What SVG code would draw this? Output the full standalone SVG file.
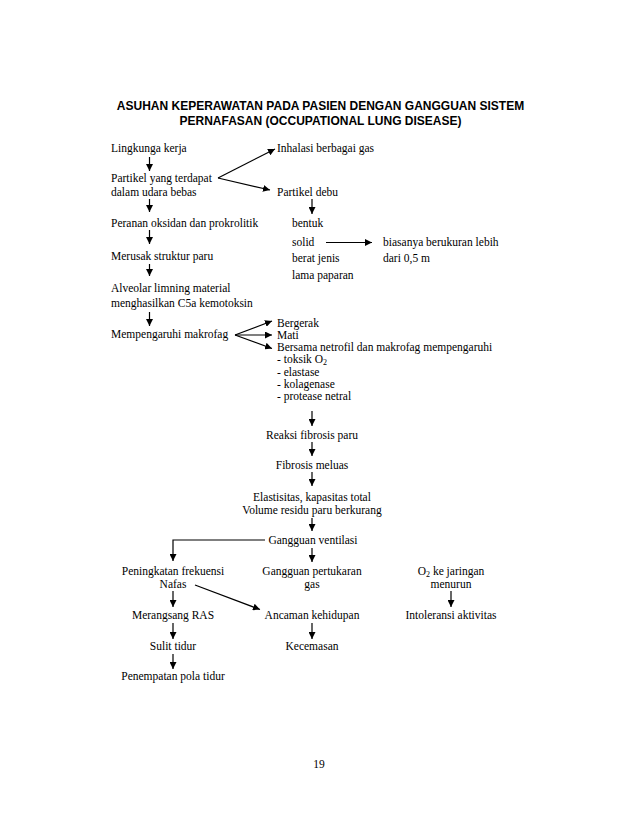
<svg xmlns="http://www.w3.org/2000/svg" width="638" height="826" viewBox="0 0 638 826">
<style>
.t{font-family:"Liberation Serif","Times New Roman",serif;font-size:11.5px;fill:#000}
.m{text-anchor:middle}
.h{font-family:"Liberation Sans",Arial,sans-serif;font-size:12px;font-weight:bold;text-anchor:middle;fill:#000}
.c{stroke:#000;stroke-width:1.2;fill:none}
</style>
<defs>
<marker id="ah" markerUnits="userSpaceOnUse" markerWidth="8" markerHeight="7" refX="7" refY="3.5" orient="auto">
<path d="M0,0 L7,3.5 L0,7 Z" fill="#000"/>
</marker>
</defs>
<rect width="638" height="826" fill="#fff"/>
<g id="title">
<text class="h" x="320.5" y="110">ASUHAN KEPERAWATAN PADA PASIEN DENGAN GANGGUAN SISTEM</text>
<text class="h" x="320.5" y="125">PERNAFASAN (OCCUPATIONAL LUNG DISEASE)</text>
</g>
<g id="n1"><text class="t" x="111" y="152">Lingkunga kerja</text></g>
<g id="n2"><text class="t" x="111" y="182">Partikel yang terdapat</text><text class="t" x="111" y="196">dalam udara bebas</text></g>
<g id="n3"><text class="t" x="111" y="227">Peranan oksidan dan prokrolitik</text></g>
<g id="n4"><text class="t" x="111" y="260">Merusak struktur paru</text></g>
<g id="n5"><text class="t" x="111" y="292">Alveolar limning material</text><text class="t" x="111" y="307">menghasilkan C5a kemotoksin</text></g>
<g id="n6"><text class="t" x="111" y="338">Mempengaruhi makrofag</text></g>
<g id="n7"><text class="t" x="277" y="152">Inhalasi berbagai gas</text></g>
<g id="n8"><text class="t" x="277" y="196">Partikel debu</text></g>
<g id="n9"><text class="t" x="292" y="227">bentuk</text><text class="t" x="292" y="246">solid</text><text class="t" x="292" y="262">berat jenis</text><text class="t" x="292" y="279">lama paparan</text></g>
<g id="n10"><text class="t" x="383" y="246">biasanya berukuran lebih</text><text class="t" x="383" y="262">dari 0,5 m</text></g>
<g id="n11"><text class="t" x="277" y="327">Bergerak</text></g>
<g id="n12"><text class="t" x="277" y="339">Mati</text></g>
<g id="n13">
<text class="t" x="277" y="351">Bersama netrofil dan makrofag mempengaruhi</text>
<text class="t" x="277" y="363">- toksik O<tspan font-size="8" dy="2">2</tspan></text>
<text class="t" x="277" y="376">- elastase</text>
<text class="t" x="277" y="388">- kolagenase</text>
<text class="t" x="277" y="400">- protease netral</text>
</g>
<g id="n14"><text class="t m" x="312" y="439">Reaksi fibrosis paru</text></g>
<g id="n15"><text class="t m" x="312" y="469">Fibrosis meluas</text></g>
<g id="n16"><text class="t m" x="312" y="501">Elastisitas, kapasitas total</text><text class="t m" x="312" y="513.5">Volume residu paru berkurang</text></g>
<g id="n17"><text class="t m" x="313" y="544">Gangguan ventilasi</text></g>
<g id="n18"><text class="t m" x="173" y="575">Peningkatan frekuensi</text><text class="t m" x="173" y="588">Nafas</text></g>
<g id="n19"><text class="t m" x="312" y="575">Gangguan pertukaran</text><text class="t m" x="312" y="588">gas</text></g>
<g id="n20"><text class="t m" x="451" y="575">O<tspan font-size="8" dy="2">2</tspan><tspan dy="-2"> ke jaringan</tspan></text><text class="t m" x="451" y="588">menurun</text></g>
<g id="n21"><text class="t m" x="173" y="619">Merangsang RAS</text></g>
<g id="n22"><text class="t m" x="312" y="619">Ancaman kehidupan</text></g>
<g id="n23"><text class="t m" x="451" y="619">Intoleransi aktivitas</text></g>
<g id="n24"><text class="t m" x="173" y="650">Sulit tidur</text></g>
<g id="n25"><text class="t m" x="312" y="650">Kecemasan</text></g>
<g id="n26"><text class="t m" x="173" y="680">Penempatan pola tidur</text></g>
<g id="page"><text class="t m" x="319" y="768">19</text></g>
<g id="connectors" class="c">
<line x1="149.5" y1="157" x2="149.5" y2="171" marker-end="url(#ah)"/>
<line x1="149.5" y1="199" x2="149.5" y2="212" marker-end="url(#ah)"/>
<line x1="149.5" y1="230" x2="149.5" y2="244" marker-end="url(#ah)"/>
<line x1="149.5" y1="264" x2="149.5" y2="276" marker-end="url(#ah)"/>
<line x1="149.5" y1="312" x2="149.5" y2="326" marker-end="url(#ah)"/>
<line x1="218" y1="178" x2="270" y2="190" marker-end="url(#ah)"/>
<line x1="218" y1="178" x2="275" y2="149" marker-end="url(#ah)"/>
<line x1="312" y1="199" x2="312" y2="214" marker-end="url(#ah)"/>
<line x1="326" y1="242.5" x2="372" y2="242.5" marker-end="url(#ah)"/>
<line x1="235" y1="335" x2="272" y2="321" marker-end="url(#ah)"/>
<line x1="235" y1="335" x2="272" y2="335" marker-end="url(#ah)"/>
<line x1="235" y1="335" x2="272" y2="348.5" marker-end="url(#ah)"/>
<line x1="312" y1="411" x2="312" y2="426" marker-end="url(#ah)"/>
<line x1="312" y1="442" x2="312" y2="456" marker-end="url(#ah)"/>
<line x1="312" y1="472" x2="312" y2="486" marker-end="url(#ah)"/>
<line x1="312" y1="518" x2="312" y2="531" marker-end="url(#ah)"/>
<polyline points="265,540 173,540 173,561" marker-end="url(#ah)"/>
<line x1="312" y1="548" x2="312" y2="562" marker-end="url(#ah)"/>
<line x1="173" y1="591" x2="173" y2="607" marker-end="url(#ah)"/>
<line x1="451" y1="591" x2="451" y2="607" marker-end="url(#ah)"/>
<line x1="195" y1="585" x2="260" y2="609.5" marker-end="url(#ah)"/>
<line x1="173" y1="623" x2="173" y2="639" marker-end="url(#ah)"/>
<line x1="312" y1="623" x2="312" y2="639" marker-end="url(#ah)"/>
<line x1="173" y1="654" x2="173" y2="669" marker-end="url(#ah)"/>
</g>
</svg>
